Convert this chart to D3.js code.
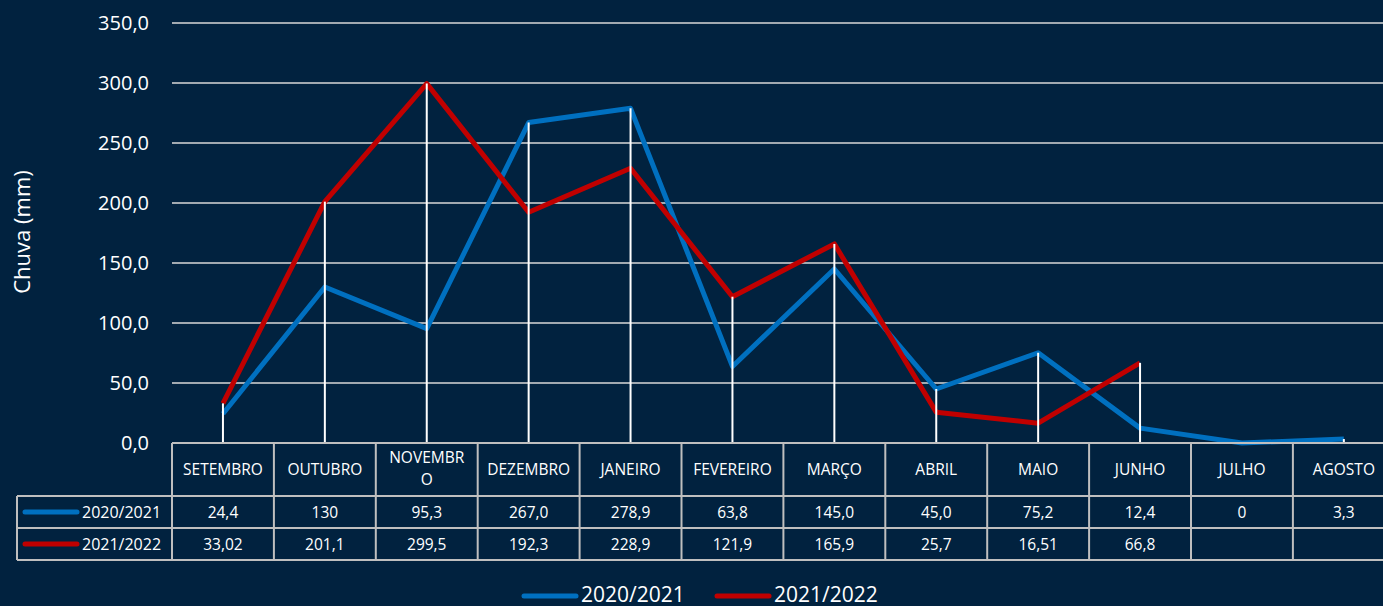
<!DOCTYPE html>
<html>
<meta charset="utf-8">
<script src="https://d3js.org/d3.v7.min.js"></script>
<style>
  body { margin: 0; background: #01223f; }
  text { font-family: "Open Sans", sans-serif; fill: #ffffff; }
</style>
<div id="chart"></div>
<script>

// data
var months = ["SETEMBRO", "OUTUBRO", "NOVEMBRO", "DEZEMBRO", "JANEIRO", "FEVEREIRO",
              "MARÇO", "ABRIL", "MAIO", "JUNHO", "JULHO", "AGOSTO"];
var seriesNames = ["2020/2021", "2021/2022"];
var s2021 = [24.4, 130, 95.3, 267.0, 278.9, 63.8, 145.0, 45.0, 75.2, 12.4, 0, 3.3];
var s2022 = [33.02, 201.1, 299.5, 192.3, 228.9, 121.9, 165.9, 25.7, 16.51, 66.8, null, null];
// as written in the data table
var s2021Text = ["24,4", "130", "95,3", "267,0", "278,9", "63,8", "145,0", "45,0", "75,2", "12,4", "0", "3,3"];
var s2022Text = ["33,02", "201,1", "299,5", "192,3", "228,9", "121,9", "165,9", "25,7", "16,51", "66,8", "", ""];
var yTicks = [0, 50, 100, 150, 200, 250, 300, 350];
var colors = ["#0070c0", "#c00000"];

var W = 1383, H = 606;
var plotLeft = 172, plotTop = 23, plotBottom = 443;
var colW = 101.9;

var svg = d3.select("#chart").append("svg")
    .attr("width", W).attr("height", H);

var x = d3.scaleBand()
    .domain(months)
    .range([plotLeft, plotLeft + colW * months.length]);

var y = d3.scaleLinear()
    .domain([0, 350])
    .range([plotBottom, plotTop]);

// gridlines
svg.append("g").selectAll("line")
    .data(yTicks.filter(function(d){ return d > 0; }))
    .enter().append("line")
      .attr("x1", plotLeft).attr("x2", W)
      .attr("y1", function(d){ return y(d); })
      .attr("y2", function(d){ return y(d); })
      .attr("stroke", "#d9d9d9")
      .attr("stroke-width", 1.5);

// y labels
svg.append("g").selectAll("text")
    .data(yTicks)
    .enter().append("text")
      .attr("x", 149)
      .attr("y", function(d){ return y(d); })
      .attr("dy", "0.36em")
      .attr("text-anchor", "end")
      .style("font-size", "20px")
      .text(function(d){ return d3.format(".1f")(d).replace(".", ","); });

svg.append("text")
    .attr("transform", "translate(30,232) rotate(-90)")
    .attr("text-anchor", "middle")
    .style("font-size", "22px")
    .text("Chuva (mm)");

// series lines
var cx = function(i){ return x(months[i]) + x.bandwidth() / 2; };
var line = d3.line()
    .defined(function(d){ return d != null; })
    .x(function(d, i){ return cx(i); })
    .y(function(d){ return y(d); });

[s2021, s2022].forEach(function(s, k){
  svg.append("path")
      .datum(s)
      .attr("fill", "none")
      .attr("stroke", colors[k])
      .attr("stroke-width", 5)
      .attr("stroke-linejoin", "round")
      .attr("d", line);
});

// drop lines
svg.append("g").selectAll("line")
    .data(months)
    .enter().append("line")
      .attr("x1", function(d, i){ return cx(i); })
      .attr("x2", function(d, i){ return cx(i); })
      .attr("y1", function(d, i){ return y(Math.max(s2021[i], s2022[i] || 0)); })
      .attr("y2", plotBottom)
      .attr("stroke", "#ffffff")
      .attr("stroke-width", 2);

// data table
var rowTop = [443, 496, 528], rowBot = [496, 528, 560];
var tableRight = plotLeft + colW * months.length;
var grid = svg.append("g")
    .attr("stroke", "#bfbfbf")
    .attr("stroke-width", 2);

// horizontal borders
grid.append("line").attr("x1", plotLeft).attr("x2", tableRight).attr("y1", 443).attr("y2", 443);
[496, 528, 560].forEach(function(yy){
  grid.append("line").attr("x1", 17).attr("x2", tableRight).attr("y1", yy).attr("y2", yy);
});
// vertical borders
grid.selectAll(".v")
    .data(d3.range(months.length + 1))
    .enter().append("line")
      .attr("x1", function(i){ return plotLeft + i * colW; })
      .attr("x2", function(i){ return plotLeft + i * colW; })
      .attr("y1", 443).attr("y2", 560);
grid.append("line").attr("x1", 17).attr("x2", 17).attr("y1", 496).attr("y2", 560);

// header labels
var header = svg.append("g").selectAll("text")
    .data(months)
    .enter().append("text")
      .attr("text-anchor", "middle")
      .style("font-size", "15.5px");
header.each(function(d, i){
  var t = d3.select(this);
  var parts = d === "NOVEMBRO" ? ["NOVEMBR", "O"] : [d];
  var y0 = parts.length > 1 ? 463 : 475;
  parts.forEach(function(p, j){
    t.append("tspan")
        .attr("x", cx(i))
        .attr("y", y0 + j * 22)
        .text(p);
  });
});

// value rows
[s2021Text, s2022Text].forEach(function(vals, k){
  var ym = (rowTop[k + 1] + rowBot[k + 1]) / 2;
  svg.append("g").selectAll("text")
      .data(vals)
      .enter().append("text")
        .attr("x", function(d, i){ return cx(i); })
        .attr("y", ym)
        .attr("dy", "0.36em")
        .attr("text-anchor", "middle")
        .style("font-size", "15.5px")
        .text(function(d){ return d; });

  svg.append("line")
      .attr("x1", 25).attr("x2", 77)
      .attr("y1", ym).attr("y2", ym)
      .attr("stroke", colors[k])
      .attr("stroke-width", 5)
      .attr("stroke-linecap", "round");
  svg.append("text")
      .attr("x", 82)
      .attr("y", ym)
      .attr("dy", "0.36em")
      .style("font-size", "16px")
      .text(seriesNames[k]);
});

// bottom legend
var legX = [524, 717];
seriesNames.forEach(function(name, k){
  svg.append("line")
      .attr("x1", legX[k]).attr("x2", legX[k] + 52)
      .attr("y1", 596).attr("y2", 596)
      .attr("stroke", colors[k])
      .attr("stroke-width", 5)
      .attr("stroke-linecap", "round");
  svg.append("text")
      .attr("x", legX[k] + 57)
      .attr("y", 602)
      .style("font-size", "21px")
      .text(name);
});

</script>
</html>
